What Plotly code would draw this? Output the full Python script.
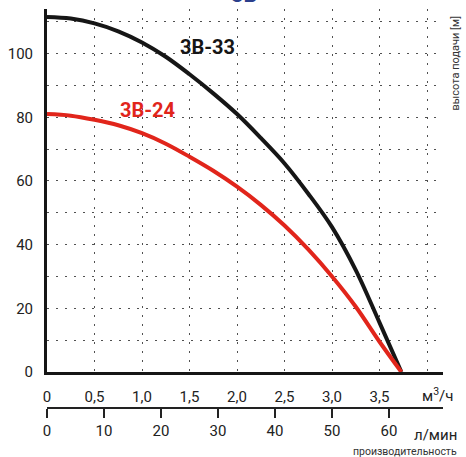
import plotly.graph_objects as go

# Data
q_33 = [0, 0.25, 0.5, 0.75, 1.0, 1.25, 1.5, 1.75, 2.0, 2.25, 2.5, 2.75, 3.0, 3.25, 3.5, 3.73]
h_33 = [111.5, 111.0, 109.5, 107.0, 103.5, 99.0, 93.5, 87.5, 81.0, 73.5, 65.5, 56.0, 45.5, 32.0, 15.5, 0]
q_24 = [0, 0.25, 0.5, 0.75, 1.0, 1.25, 1.5, 1.75, 2.0, 2.25, 2.5, 2.75, 3.0, 3.25, 3.5, 3.73]
h_24 = [81.0, 80.5, 79.2, 77.5, 75.0, 71.7, 67.6, 63.2, 58.2, 52.5, 46.0, 38.5, 30.0, 20.5, 9.5, 0]

x_ticks = [0, 0.5, 1.0, 1.5, 2.0, 2.5, 3.0, 3.5, 4.0]
x_labels = ["0", "0,5", "1,0", "1,5", "2,0", "2,5", "3,0", "3,5", ""]
y_ticks = [0, 10, 20, 30, 40, 50, 60, 70, 80, 90, 100, 110]
y_labels = ["0", "", "20", "", "40", "", "60", "", "80", "", "100", ""]
lmin_ticks = [0, 10, 20, 30, 40, 50, 60]

X_MAX = 4.168
Y_MAX = 114

FONT = "Roboto"
TXT = "#222222"
BLACK = "#161616"
RED = "#e1251b"
GRID = "#505050"

fig = go.Figure()
fig.add_trace(go.Scatter(x=q_33, y=h_33, mode="lines", line=dict(color=BLACK, width=4, shape="spline"),
                         hoverinfo="skip", showlegend=False))
fig.add_trace(go.Scatter(x=q_24, y=h_24, mode="lines", line=dict(color=RED, width=4, shape="spline"),
                         hoverinfo="skip", showlegend=False))
# invisible trace to activate the second (л/мин) axis
fig.add_trace(go.Scatter(x=[0], y=[0], xaxis="x2", yaxis="y", mode="markers",
                         marker=dict(opacity=0), hoverinfo="skip", showlegend=False))

fig.update_layout(
    width=466, height=457,
    margin=dict(l=47, r=23, t=9, b=49, autoexpand=False),
    paper_bgcolor="white", plot_bgcolor="white",
    font=dict(family=FONT, size=15, color=TXT),
    xaxis=dict(range=[0, X_MAX], tickvals=x_ticks, ticktext=x_labels, automargin=False,
               showgrid=True, gridcolor=GRID, gridwidth=1.4, griddash="1.5px,7.5px",
               showline=True, linecolor=BLACK, linewidth=3,
               ticks="outside", ticklen=9, tickcolor="rgba(0,0,0,0)",
               zeroline=False, fixedrange=True),
    yaxis=dict(range=[0, Y_MAX], domain=[0.0902, 1], tickvals=y_ticks, ticktext=y_labels,
               automargin=False,
               showgrid=True, gridcolor=GRID, gridwidth=1.4, griddash="1.5px,7.5px",
               showline=True, linecolor=BLACK, linewidth=3,
               ticks="outside", ticklen=8, tickcolor="rgba(0,0,0,0)",
               zeroline=False, fixedrange=True),
    xaxis2=dict(range=[0, X_MAX * 1000 / 60], overlaying="x", anchor="free", position=0,
                side="bottom", tickvals=lmin_ticks, showgrid=False, zeroline=False, automargin=False,
                showline=True, linecolor=TXT, linewidth=1.5,
                ticks="outside", ticklen=9, tickwidth=1.5, tickcolor=TXT, fixedrange=True),
)

annotations = [
    dict(x=1.684, y=102.1, xref="x", yref="y", text="<b>3B-33</b>", showarrow=False,
         font=dict(family=FONT, size=20, color=BLACK)),
    dict(x=1.053, y=82.3, xref="x", yref="y", text="<b>3B-24</b>", showarrow=False,
         font=dict(family=FONT, size=20, color=RED)),
    dict(x=0.498, y=1.0, xref="paper", yref="paper", xanchor="center", yanchor="bottom",
         text="<b>3B</b>", showarrow=False, font=dict(family=FONT, size=22, color="#2b3f8c")),
    dict(x=1.0303, y=0.99, xref="paper", yref="paper", xanchor="center", yanchor="top",
         text="высота подачи [м]", textangle=-90, showarrow=False,
         font=dict(family=FONT, size=11, color="#333333")),
    dict(x=0.985, y=0.0326, xref="paper", yref="paper", xanchor="center", yanchor="middle",
         text="м<sup>3</sup>/ч", showarrow=False, font=dict(family=FONT, size=15, color=TXT)),
    dict(x=0.98, y=-0.0677, xref="paper", yref="paper", xanchor="center", yanchor="middle",
         text="л/мин", showarrow=False, font=dict(family=FONT, size=15, color=TXT)),
    dict(x=1.0404, y=-0.110, xref="paper", yref="paper", xanchor="right", yanchor="middle",
         text="производительность", showarrow=False, font=dict(family=FONT, size=10.5, color="#333333")),
]
fig.update_layout(annotations=annotations)

fig.write_html("out.html", config={"displayModeBar": False},
               post_script="document.body.style.margin='0';document.body.style.overflow='hidden';")
